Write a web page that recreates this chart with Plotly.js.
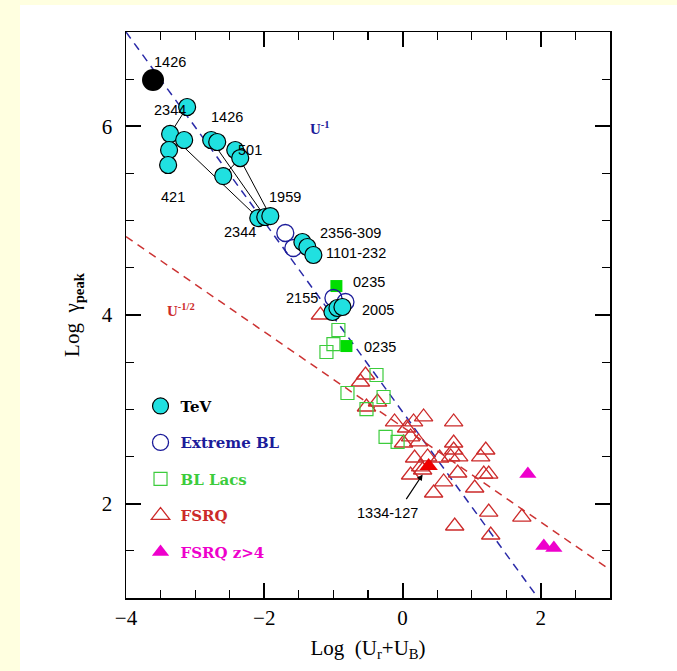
<!DOCTYPE html>
<html>
<head>
<meta charset="utf-8">
<script src="https://cdn.plot.ly/plotly-3.0.1.min.js"></script>
<style>html,body{margin:0;padding:0;background:#ffffe0;}#chart{width:677px;height:671px;}</style>
</head>
<body>
<div id="chart"></div>
<script>
// ---- data ----
const tevX = [-3.116,-3.362,-3.159,-3.377,-3.391,-2.768,-2.681,-2.420,-2.348,-2.594,-2.087,-1.986,-1.913,-1.449,-1.377,-1.290,-1.014,-0.942,-0.870];
const tevY = [6.205,5.919,5.855,5.749,5.590,5.855,5.834,5.749,5.664,5.473,5.028,5.039,5.049,4.774,4.721,4.636,4.032,4.074,4.085];
const tevHighX = [-3.609];
const tevHighY = [6.491];
const extremeX = [-1.696,-1.580,-1.000,-0.826];
const extremeY = [4.869,4.710,4.180,4.138];
const bllacFilledX = [-0.957,-0.812];
const bllacFilledY = [4.307,3.671];
const bllacX = [-0.928,-1.000,-1.101,-0.377,-0.797,-0.275,-0.522,-0.246,-0.072];
const bllacY = [3.841,3.692,3.608,3.364,3.173,3.131,3.003,2.707,2.654];
const fsrqX = [-1.188,-0.536,-0.609,-0.362,-0.522,0.304,0.739,-0.116,0.058,0.159,0.116,0.232,0.014,0.739,0.739,1.203,1.130,0.174,0.362,0.536,0.696,0.812,0.261,0.116,0.290,0.797,1.174,1.246,0.594,1.043,0.449,1.246,1.725,0.754,1.275];
const fsrqY = [4.000,3.364,3.290,3.078,3.025,2.919,2.866,2.866,2.802,2.866,2.707,2.654,2.643,2.643,2.569,2.569,2.495,2.484,2.495,2.484,2.495,2.495,2.389,2.304,2.357,2.325,2.314,2.314,2.230,2.166,2.113,1.911,1.858,1.763,1.668];
const fsrqFilledX = [0.377];
const fsrqFilledY = [2.399];
const fsrqZ4X = [1.812,2.043,2.188];
const fsrqZ4Y = [2.314,1.551,1.530];
// connecting tracks of individual TeV sources
const track2344X = [-3.116,-3.362,-2.087], track2344Y = [6.205,5.919,5.028];
const track421X = [-3.391,-3.377,-3.159],  track421Y = [5.590,5.749,5.855];
const track1426X = [-2.768,-1.986],        track1426Y = [5.855,5.039];
const track501X = [-2.594,-2.348,-2.420,-1.913], track501Y = [5.473,5.664,5.749,5.049];
const track2356X = [-1.449,-1.290],        track2356Y = [4.774,4.636];
// U^-1 and U^-1/2 relations (end points)
const uInvX = [-4, 1.96],  uInvY = [7.0, 1.0];
const uHalfX = [-4, 3],    uHalfY = [4.83, 1.30];
// source labels
const labelText = ['1426','2344','1426','501','421','1959','2344','2356-309','1101-232','0235','2155','2005','0235'];
const labelX = [-3.36,-3.36,-2.54,-2.20,-3.32,-1.70,-2.35,-0.75,-0.68,-0.49,-1.45,-0.36,-0.32];
const labelY = [6.68,6.17,6.10,5.75,5.25,5.25,4.88,4.87,4.66,4.35,4.18,4.05,3.66];
const legendNames = ['TeV','Extreme BL','BL Lacs','FSRQ','FSRQ z>4'];
const xTicks = [-4,-2,0,2];
const yTicks = [2,4,6];

const CYAN = '#20e0e0', NAVY = '#1c1c9a', GREEN = '#3ccc3c', RED = '#cc2a2a', MAG = '#ee00cc';
const lineStyle = {color:'black', width:1};
function track(x,y){return {x:x,y:y,mode:'lines',type:'scatter',line:lineStyle,showlegend:false,hoverinfo:'skip'};}
function lname(t,c){return '<b><span style="color:'+c+'">'+t+'</span></b>';}

const traces = [
  {x:uInvX,y:uInvY,mode:'lines',type:'scatter',line:{color:'#2a2aa8',width:1.5,dash:'8px,6px'},showlegend:false},
  {x:uHalfX,y:uHalfY,mode:'lines',type:'scatter',line:{color:'#cc3333',width:1.5,dash:'8px,6px'},showlegend:false},
  track(track2344X,track2344Y), track(track421X,track421Y), track(track1426X,track1426Y),
  track(track501X,track501Y), track(track2356X,track2356Y),
  {x:fsrqX,y:fsrqY,mode:'markers',type:'scatter',name:lname(legendNames[3],RED),legendgroup:'d',legendrank:4,
   marker:{symbol:'triangle-up-open',size:16,color:RED,line:{width:1.3,color:RED}}},
  {x:fsrqFilledX,y:fsrqFilledY,mode:'markers',type:'scatter',showlegend:false,
   marker:{symbol:'triangle-up',size:16,color:'#ee0000',line:{width:0}}},
  {x:bllacX,y:bllacY,mode:'markers',type:'scatter',name:lname(legendNames[2],GREEN),legendgroup:'c',legendrank:3,
   marker:{symbol:'square-open',size:13,color:GREEN,line:{width:1.2,color:GREEN}}},
  {x:bllacFilledX,y:bllacFilledY,mode:'markers',type:'scatter',showlegend:false,
   marker:{symbol:'square',size:12,color:'#00dd00',line:{width:0}}},
  {x:extremeX,y:extremeY,mode:'markers',type:'scatter',name:lname(legendNames[1],NAVY),legendgroup:'b',legendrank:2,
   marker:{symbol:'circle-open',size:17,color:NAVY,line:{width:1.3,color:NAVY}}},
  {x:tevX,y:tevY,mode:'markers',type:'scatter',name:lname(legendNames[0],'black'),legendgroup:'a',legendrank:1,
   marker:{symbol:'circle',size:17,color:CYAN,line:{width:1.2,color:'black'}}},
  {x:tevHighX,y:tevHighY,mode:'markers',type:'scatter',showlegend:false,
   marker:{symbol:'circle',size:22,color:'black'}},
  {x:fsrqZ4X,y:fsrqZ4Y,mode:'markers',type:'scatter',name:lname(legendNames[4],MAG),legendgroup:'e',legendrank:5,
   marker:{symbol:'triangle-up',size:15,color:MAG,line:{width:0}}}
];

const labelFont = {family:'Liberation Sans, Arial, sans-serif',size:14.5,color:'black'};
const annotations = labelText.map((t,i)=>({x:labelX[i],y:labelY[i],text:t,showarrow:false,font:labelFont}));
annotations.push({x:-1.19,y:5.98,text:'<b>U<sup>-1</sup></b>',showarrow:false,font:{family:'Liberation Serif, serif',size:15,color:NAVY}});
annotations.push({x:-3.2,y:4.05,text:'<b>U<sup>-1/2</sup></b>',showarrow:false,font:{family:'Liberation Serif, serif',size:15,color:RED}});
annotations.push({x:0.29,y:2.31,ax:0.01,ay:2.0,axref:'x',ayref:'y',text:' ',showarrow:true,arrowhead:2,arrowsize:1,arrowwidth:1.2,arrowcolor:'black'});
annotations.push({x:-0.22,y:1.90,text:'1334-127',showarrow:false,font:labelFont});

const axisCommon = {showgrid:false,zeroline:false,showline:true,linecolor:'black',linewidth:1.5,mirror:'ticks',
  ticks:'inside',ticklen:15,tickwidth:2,tickcolor:'black',
  minor:{dtick:0.5,ticks:'inside',ticklen:8,tickwidth:1.2,tickcolor:'black'},
  tickfont:{family:'Liberation Serif, serif',size:21,color:'black'}};

const layout = {
  width:677,height:671,
  paper_bgcolor:'#ffffe0',plot_bgcolor:'white',
  margin:{l:126,r:67,t:32,b:73},
  showlegend:true,
  legend:{x:0.03,y:0.368,xanchor:'left',yanchor:'top',bgcolor:'rgba(0,0,0,0)',traceorder:'grouped',tracegroupgap:14,
    font:{family:'DejaVu Serif, serif',size:15,color:'black'}},
  xaxis:Object.assign({},axisCommon,{range:[-4,3],tickvals:xTicks,ticktext:xTicks.map(v=>v<0?'\u2212'+Math.abs(v):String(v)),
    ticklabelstandoff:0,
    title:{text:'Log  (U<sub>r</sub>+U<sub>B</sub>)',font:{family:'Liberation Serif, serif',size:21,color:'black'},standoff:11}}),
  yaxis:Object.assign({},axisCommon,{range:[1,7],tickvals:yTicks,ticklabelstandoff:8,
    title:{text:'Log  \u03b3<sub><b>peak</b></sub>',font:{family:'Liberation Serif, serif',size:21,color:'black'},standoff:16}}),
  shapes:[{type:'rect',xref:'paper',yref:'paper',x0:-0.219,x1:1.2,y0:-0.2,y1:1.0477,fillcolor:'white',line:{width:0},layer:'below'}],
  annotations:annotations
};

Plotly.newPlot('chart',traces,layout,{staticPlot:true,displayModeBar:false});
</script>
</body>
</html>
